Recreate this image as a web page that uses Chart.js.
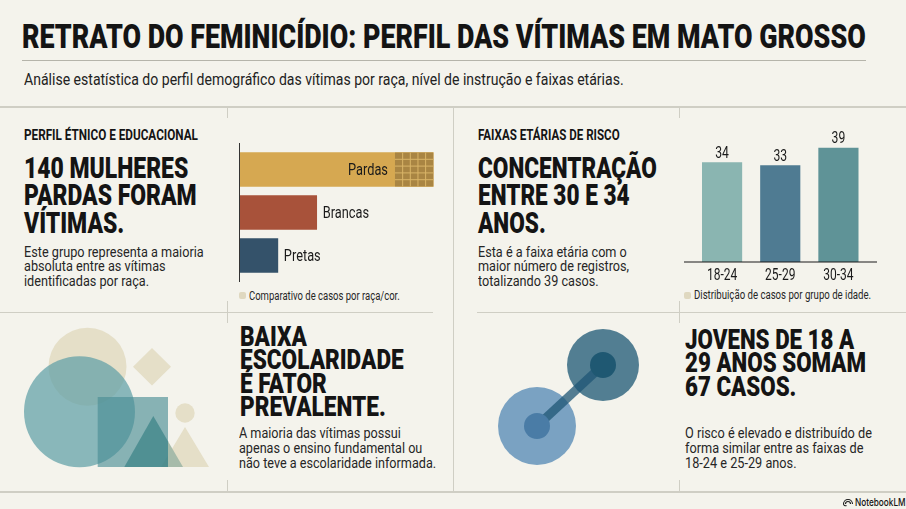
<!DOCTYPE html>
<html lang="pt">
<head>
<meta charset="utf-8">
<title>Retrato do feminicídio</title>
<script src="https://cdn.jsdelivr.net/npm/chart.js@4"></script>
<style>
  html, body { margin: 0; padding: 0; }
  body { width: 906px; height: 509px; background: #f4f3ec; position: relative; overflow: hidden; color: #141414;
         font-family: Roboto, sans-serif; }
  .t { position: absolute; white-space: nowrap; transform-origin: 0 0; }
  .head { font-weight: 900; font-size: 29px; line-height: 27.5px; }
  .head.low { font-size: 27px; line-height: 23.4px; }
  .kick { font-weight: 700; font-size: 14.5px; line-height: 16px; }
  .body { font-size: 15px; line-height: 14.4px; color: #262626; }
  .body.low { font-size: 15.5px; line-height: 15px; }
  .note { font-size: 12px; line-height: 14px; color: #262626; }
  .dot { position: absolute; width: 7px; height: 7px; border-radius: 2px; background: #dfd8c0; }
  .rule { position: absolute; background: #cfcec4; }
  .box { position: absolute; }
  svg { position: absolute; left: 0; top: 0; }
</style>
</head>
<body>
<div class="rule" style="left:22px;top:60px;width:844px;height:1px;background:#b5b4aa"></div>
<div class="rule" style="left:0;top:106px;width:906px;height:1.5px"></div>
<div class="rule" style="left:0;top:311.5px;width:433px;height:1.5px"></div>
<div class="rule" style="left:477px;top:311.5px;width:429px;height:1.5px"></div>
<div class="rule" style="left:0;top:491px;width:906px;height:1.5px"></div>
<div class="rule" style="left:452.5px;top:106px;width:1.5px;height:385px"></div>
<div class="rule" style="left:226.5px;top:106px;width:1.5px;height:12px"></div>
<div class="rule" style="left:678.5px;top:106px;width:1.5px;height:12px"></div>
<div class="rule" style="left:226.5px;top:301px;width:1.5px;height:22px"></div>
<div class="rule" style="left:678.5px;top:301px;width:1.5px;height:22px"></div>
<div class="rule" style="left:226.5px;top:480px;width:1.5px;height:11px"></div>
<div class="rule" style="left:678.5px;top:480px;width:1.5px;height:11px"></div>

<div class="t" data-w="844" style="left:22px;top:18px;font-size:33px;line-height:38px;font-weight:900">RETRATO DO FEMINICÍDIO: PERFIL DAS VÍTIMAS EM MATO GROSSO</div>
<div class="t" data-w="600" style="left:24px;top:69px;font-size:17px;line-height:20px;color:#222">Análise estatística do perfil demográfico das vítimas por raça, nível de instrução e faixas etárias.</div>

<div class="t kick" data-w="174" style="left:24px;top:128px">PERFIL ÉTNICO E EDUCACIONAL</div>
<div class="t head" data-w="173" style="left:24px;top:154.5px">140 MULHERES<br>PARDAS FORAM<br>VÍTIMAS.</div>
<div class="t body" data-w="180" style="left:24px;top:245px">Este grupo representa a maioria<br>absoluta entre as vítimas<br>identificadas por raça.</div>
<div class="dot" style="left:239px;top:292px"></div>
<div class="t note" data-w="151" style="left:249px;top:288.5px">Comparativo de casos por raça/cor.</div>

<div class="t kick" data-w="142" style="left:478px;top:128px">FAIXAS ETÁRIAS DE RISCO</div>
<div class="t head" data-w="179" style="left:478px;top:154.5px">CONCENTRAÇÃO<br>ENTRE 30 E 34<br>ANOS.</div>
<div class="t body" data-w="151" style="left:478px;top:245px">Esta é a faixa etária com o<br>maior número de registros,<br>totalizando 39 casos.</div>
<div class="dot" style="left:684px;top:292px"></div>
<div class="t note" data-w="177" style="left:694px;top:288px">Distribuição de casos por grupo de idade.</div>

<div class="t head low" data-w="164" style="left:239.5px;top:326px">BAIXA<br>ESCOLARIDADE<br>É FATOR<br>PREVALENTE.</div>
<div class="t body low" data-w="197" style="left:239px;top:425.5px">A maioria das vítimas possui<br>apenas o ensino fundamental ou<br>não teve a escolaridade informada.</div>

<div class="t head low" data-w="181" style="left:685px;top:329px">JOVENS DE 18 A<br>29 ANOS SOMAM<br>67 CASOS.</div>
<div class="t body low" data-w="187" style="left:685px;top:425.5px">O risco é elevado e distribuído de<br>forma similar entre as faixas de<br>18-24 e 25-29 anos.</div>

<div class="t" data-w="51" style="left:855px;top:496px;font-family:Inter,sans-serif;font-size:10.5px;line-height:13px;font-weight:500">NotebookLM</div>

<svg width="906" height="509">
  <!-- formas decorativas -->
  <circle cx="87.5" cy="366.7" r="39" fill="#e5dfc8"/>
  <path d="M152 348 L171 366.8 L152 385.6 L133 366.8 Z" fill="#e5dfc8"/>
  <circle cx="185" cy="413" r="9.7" fill="#e5dfc8"/>
  <path d="M185 427 L209 467 L161 467 Z" fill="#e5dfc8"/>
  <circle cx="79.5" cy="411.7" r="55.5" fill="#5f9fa6" fill-opacity=".72"/>
  <rect x="97.7" y="397" width="70.3" height="70" fill="#4a8d94" fill-opacity=".64"/>
  <path d="M153.3 416 L168 441.2 L168 467 L124.3 467 Z" fill="#2f7a80" fill-opacity=".62"/>
  <path d="M168 441.2 L183 467 L168 467 Z" fill="#a6bbaa"/>
  <circle cx="537" cy="426" r="39" fill="#7aa2c2"/>
  <circle cx="603" cy="365" r="36" fill="#4c7a8e" fill-opacity=".97"/>
  <path d="M537 426 L603 365" stroke="#1f5674" stroke-opacity=".75" stroke-width="9"/>
  <circle cx="537" cy="426" r="13" fill="#4a7ca6"/>
  <circle cx="603" cy="365" r="13" fill="#1f5872"/>
  <g fill="none" stroke="#1c1c1c" stroke-width="1.1">
    <path d="M843.5 504 a4.5 4.5 0 0 1 9 0"/>
    <path d="M845.5 504 a2.5 2.5 0 0 1 5 0"/>
    <path d="M843.5 504 a2 2 0 0 0 3 1.5"/>
  </g>
</svg>

<div class="box" style="left:238px;top:143px;width:200px;height:139px"><canvas id="racaChart"></canvas></div>
<div class="box" style="left:684px;top:125px;width:193px;height:165px"><canvas id="idadeChart"></canvas></div>

<script>
// valores
const racaLabels = ['Pardas', 'Brancas', 'Pretas'];
const racaValues = [140, 56, 28];
const racaColors = ['#d6a851', '#a8523a', '#34526a'];

const idadeLabels = ['18-24', '25-29', '30-34'];
const idadeValues = [34, 33, 39];
const idadeColors = ['#8ab5b1', '#4f7b92', '#5f9397'];

const inkColor = '#1a1a1a';

// ajusta a largura dos textos (a fonte condensada original nao existe aqui)
document.querySelectorAll('.t[data-w]').forEach(el => {
  el.style.transform = `scaleX(${el.dataset.w / el.offsetWidth})`;
});

Chart.defaults.animation = false;
Chart.defaults.responsive = true;
Chart.defaults.maintainAspectRatio = false;

// texto estreitado no canvas; x e a ancora conforme textAlign
function narrowText(ctx, text, x, y, sx) {
  ctx.save();
  ctx.translate(x, y);
  ctx.scale(sx, 1);
  ctx.fillText(text, 0, 0);
  ctx.restore();
}

// Eixo vertical, rotulos ao lado das barras e a trama da barra maior
const racaDecor = {
  id: 'racaDecor',
  afterDatasetsDraw(chart) {
    const ctx = chart.ctx;
    const meta = chart.getDatasetMeta(0);
    const x = chart.scales.x;

    // trama sobre a parte final da barra Pardas
    const bar = meta.data[0];
    const left = x.getPixelForValue(112.4);
    const top = bar.y - bar.height / 2;
    ctx.save();
    ctx.fillStyle = '#a98543';
    ctx.fillRect(left, top, bar.x - left, bar.height);
    ctx.strokeStyle = '#d9b468';
    ctx.lineWidth = 1;
    ctx.beginPath();
    for (let i = 1; i < 5; i++) {
      const gx = left + (bar.x - left) * i / 5;
      ctx.moveTo(gx, top);
      ctx.lineTo(gx, top + bar.height);
      const gy = top + bar.height * i / 5;
      ctx.moveTo(left, gy);
      ctx.lineTo(bar.x, gy);
    }
    ctx.stroke();

    ctx.font = '16px Roboto, sans-serif';
    ctx.fillStyle = inkColor;
    ctx.textBaseline = 'middle';
    meta.data.forEach((b, i) => {
      if (i === 0) {
        ctx.textAlign = 'right';
        narrowText(ctx, racaLabels[i], left - 7, b.y + 1, 0.8);
      } else {
        ctx.textAlign = 'left';
        narrowText(ctx, racaLabels[i], b.x + 6, b.y + 1, 0.8);
      }
    });

    ctx.strokeStyle = '#333';
    ctx.beginPath();
    ctx.moveTo(x.left + 0.5, 0);
    ctx.lineTo(x.left + 0.5, chart.height);
    ctx.stroke();
    ctx.restore();
  }
};

// Valores acima das barras, rotulos do eixo e linha de base
const idadeDecor = {
  id: 'idadeDecor',
  afterDatasetsDraw(chart) {
    const ctx = chart.ctx;
    const meta = chart.getDatasetMeta(0);
    const x = chart.scales.x;
    const base = chart.scales.y.getPixelForValue(0);
    ctx.save();
    ctx.font = '16px Roboto, sans-serif';
    ctx.fillStyle = inkColor;
    ctx.textAlign = 'center';
    ctx.textBaseline = 'alphabetic';
    meta.data.forEach((b, i) => narrowText(ctx, String(idadeValues[i]), b.x, b.y - 5, 0.76));
    x.getTicks().forEach((tick, i) => {
      narrowText(ctx, x.getLabelForValue(tick.value), x.getPixelForTick(i), base + 17.5, 0.75);
    });
    ctx.strokeStyle = inkColor;
    ctx.lineWidth = 1.2;
    ctx.beginPath();
    ctx.moveTo(0, base);
    ctx.lineTo(chart.width, base);
    ctx.stroke();
    ctx.restore();
  }
};

new Chart(document.getElementById('racaChart'), {
  type: 'bar',
  data: {
    labels: racaLabels,
    datasets: [{ data: racaValues, backgroundColor: racaColors, barThickness: 34 }]
  },
  options: {
    indexAxis: 'y',
    layout: { padding: { top: 5, bottom: 5, left: 1 } },
    plugins: { legend: { display: false }, tooltip: { enabled: false } },
    scales: {
      x: { display: false, min: 0, max: 143.4 },
      y: { display: false }
    }
  },
  plugins: [racaDecor]
});

new Chart(document.getElementById('idadeChart'), {
  type: 'bar',
  data: {
    labels: idadeLabels,
    datasets: [{ data: idadeValues, backgroundColor: idadeColors, barThickness: 39.5 }]
  },
  options: {
    layout: { padding: { left: 9, right: 9.5 } },
    plugins: { legend: { display: false }, tooltip: { enabled: false } },
    scales: {
      x: {
        grid: { display: false },
        border: { display: false },
        afterFit(scale) { scale.height = 28; },
        ticks: { display: false }
      },
      y: { display: false, min: 0, max: 46.9 }
    }
  },
  plugins: [idadeDecor]
});
</script>
</body>
</html>
